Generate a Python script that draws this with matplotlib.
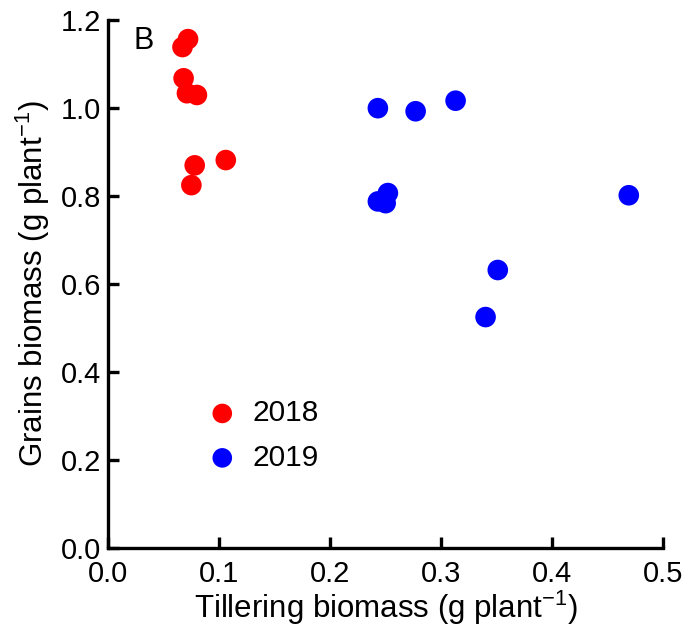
import matplotlib
matplotlib.use("Agg")
import matplotlib.pyplot as plt

plt.rcParams['font.family'] = ['Liberation Sans', 'DejaVu Sans']
plt.rcParams['mathtext.default'] = 'regular'

# tillering biomass (x) and grains biomass (y), g plant-1
till_2018 = [0.072, 0.067, 0.068, 0.071, 0.080, 0.078, 0.106, 0.075]
grain_2018 = [1.157, 1.139, 1.068, 1.034, 1.030, 0.870, 0.882, 0.825]

till_2019 = [0.243, 0.277, 0.313, 0.252, 0.243, 0.250, 0.469, 0.351, 0.340]
grain_2019 = [1.000, 0.993, 1.017, 0.807, 0.788, 0.784, 0.802, 0.632, 0.525]

fig = plt.figure(figsize=(6.93, 6.32), dpi=100)
ax = fig.add_axes([0.156, 0.133, 0.801, 0.835])

ax.scatter(till_2018, grain_2018, s=220, color="#ff0000", edgecolors="none",
           label="2018", clip_on=False, zorder=3)
ax.scatter(till_2019, grain_2019, s=220, color="#0000ff", edgecolors="none",
           label="2019", clip_on=False, zorder=3)

ax.set_xlim(0, 0.5)
ax.set_ylim(0, 1.2)
ax.set_xticks([0.0, 0.1, 0.2, 0.3, 0.4, 0.5])
ax.set_yticks([0.0, 0.2, 0.4, 0.6, 0.8, 1.0, 1.2])
ax.xaxis.set_major_formatter(matplotlib.ticker.FormatStrFormatter('%.1f'))
ax.yaxis.set_major_formatter(matplotlib.ticker.FormatStrFormatter('%.1f'))

for side in ["top", "right"]:
    ax.spines[side].set_visible(False)
for side in ["left", "bottom"]:
    ax.spines[side].set_linewidth(2.4)
ax.tick_params(direction="in", length=8, width=2.4, labelsize=21)
ax.tick_params(axis="x", pad=9)
ax.tick_params(axis="y", pad=5)

ax.set_xlabel("Tillering biomass (g plant$^{-1}$)", fontsize=22.5, labelpad=0)
ax.set_ylabel("Grains biomass (g plant$^{-1}$)", fontsize=22.5, labelpad=6)

ax.text(0.045, 0.96, "B", transform=ax.transAxes, fontsize=22,
        ha="left", va="center")

ax.legend(loc="upper left", bbox_to_anchor=(0.125, 0.31), frameon=False,
          fontsize=21.5, handletextpad=0.0, labelspacing=0.55, borderpad=0,
          markerscale=0.95)

fig.savefig("out.png", dpi=100)
